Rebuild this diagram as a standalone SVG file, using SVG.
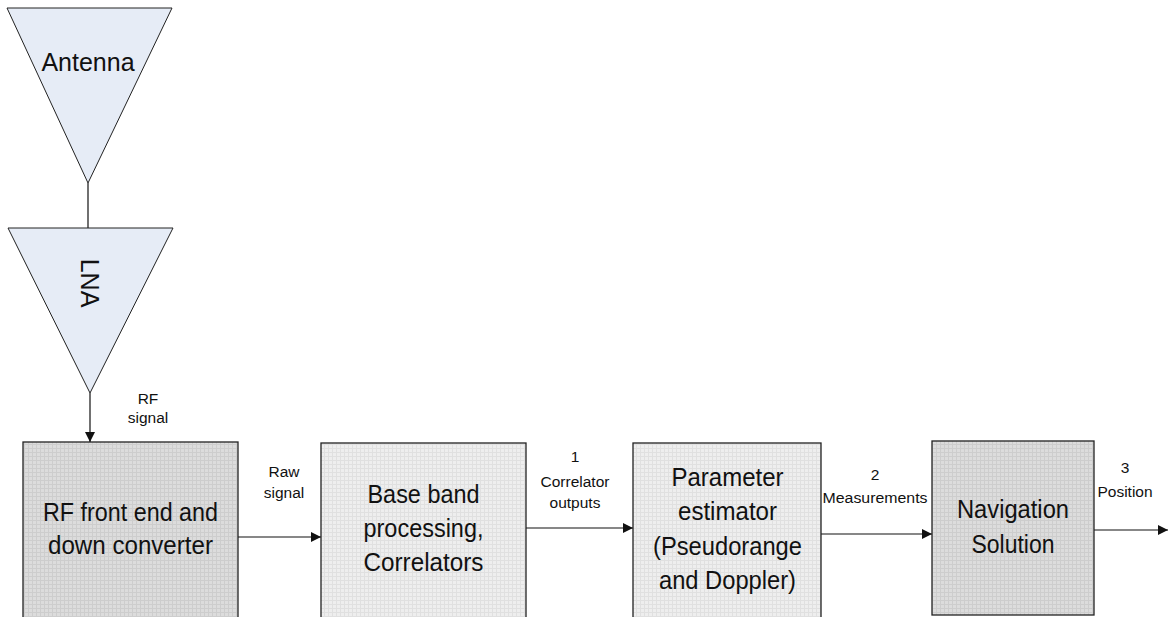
<svg xmlns="http://www.w3.org/2000/svg" width="1168" height="617" viewBox="0 0 1168 617">
<style>
.tri{fill:#E6ECF6;stroke:#222;stroke-width:1}
.box{stroke:#222;stroke-width:1.3}
.big{font-family:"Liberation Sans",Arial,sans-serif;font-size:25px;fill:#111;text-anchor:middle}
.sm{font-family:"Liberation Sans",Arial,sans-serif;font-size:15.5px;fill:#111;text-anchor:middle}
.ln{stroke:#111;stroke-width:1.2;fill:none}
</style>
<defs>
<pattern id="gridD" width="4" height="4" patternUnits="userSpaceOnUse">
<rect width="4" height="4" fill="#DCDCDC"/>
<path d="M0 0.5H4M0.5 0V4" stroke="#CDCDCD" stroke-width="1"/>
</pattern>
<pattern id="gridL" width="4" height="4" patternUnits="userSpaceOnUse">
<rect width="4" height="4" fill="#EEEEEE"/>
<path d="M0 0.5H4M0.5 0V4" stroke="#E0E0E0" stroke-width="1"/>
</pattern>
<marker id="arr" viewBox="0 0 10 10" refX="10" refY="5" markerWidth="10" markerHeight="10" markerUnits="userSpaceOnUse" orient="auto">
<path d="M0 0L10 5L0 10Z" fill="#111"/>
</marker>
</defs>
<g id="connectors">
<line class="ln" x1="88" y1="183" x2="88" y2="228"/>
<line class="ln" x1="90" y1="393" x2="90" y2="442" marker-end="url(#arr)"/>
<line class="ln" x1="238" y1="537" x2="321" y2="537" marker-end="url(#arr)"/>
<line class="ln" x1="526" y1="528" x2="633" y2="528" marker-end="url(#arr)"/>
<line class="ln" x1="821" y1="534" x2="932" y2="534" marker-end="url(#arr)"/>
<line class="ln" x1="1094" y1="530" x2="1168" y2="530" marker-end="url(#arr)"/>
</g>
<g id="antenna">
<polygon class="tri" points="7,8 172,8 88,183"/>
<text class="big" x="88" y="71">Antenna</text>
</g>
<g id="lna">
<polygon class="tri" points="8,228 173,228 90,393"/>
<text class="big" transform="translate(81,283) rotate(90)">LNA</text>
</g>
<g id="rf">
<rect class="box" x="23" y="442" width="215" height="180" fill="url(#gridD)"/>
<text class="big" x="130.5" y="521" textLength="175" lengthAdjust="spacingAndGlyphs">RF front end and</text>
<text class="big" x="130.5" y="554" textLength="165" lengthAdjust="spacingAndGlyphs">down converter</text>
</g>
<g id="baseband">
<rect class="box" x="321" y="443" width="205" height="180" fill="url(#gridL)"/>
<text class="big" x="423.5" y="503" textLength="112" lengthAdjust="spacingAndGlyphs">Base band</text>
<text class="big" x="423.5" y="537" textLength="120" lengthAdjust="spacingAndGlyphs">processing,</text>
<text class="big" x="423.5" y="571" textLength="120" lengthAdjust="spacingAndGlyphs">Correlators</text>
</g>
<g id="param">
<rect class="box" x="633" y="443" width="188" height="180" fill="url(#gridL)"/>
<text class="big" x="727.5" y="486" textLength="112" lengthAdjust="spacingAndGlyphs">Parameter</text>
<text class="big" x="727.5" y="520" textLength="99" lengthAdjust="spacingAndGlyphs">estimator</text>
<text class="big" x="727.5" y="555" textLength="149" lengthAdjust="spacingAndGlyphs">(Pseudorange</text>
<text class="big" x="727.5" y="589" textLength="137" lengthAdjust="spacingAndGlyphs">and Doppler)</text>
</g>
<g id="nav">
<rect class="box" x="932" y="441" width="162" height="174" fill="url(#gridD)"/>
<text class="big" x="1013" y="518" textLength="112" lengthAdjust="spacingAndGlyphs">Navigation</text>
<text class="big" x="1013" y="553" textLength="83" lengthAdjust="spacingAndGlyphs">Solution</text>
</g>
<g id="labels">
<text class="sm" x="148" y="404">RF</text>
<text class="sm" x="148" y="423">signal</text>
<text class="sm" x="284" y="477">Raw</text>
<text class="sm" x="284" y="498">signal</text>
<text class="sm" x="575" y="462">1</text>
<text class="sm" x="575" y="487">Correlator</text>
<text class="sm" x="575" y="508">outputs</text>
<text class="sm" x="875" y="480">2</text>
<text class="sm" x="875" y="503" textLength="105" lengthAdjust="spacingAndGlyphs">Measurements</text>
<text class="sm" x="1125" y="473">3</text>
<text class="sm" x="1125" y="497">Position</text>
</g>
</svg>
